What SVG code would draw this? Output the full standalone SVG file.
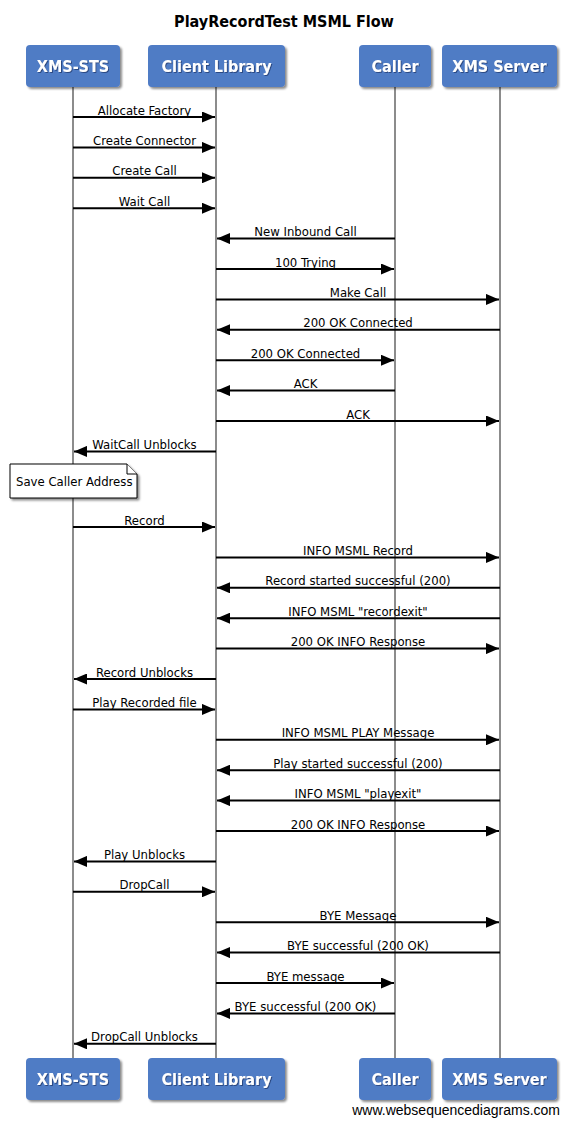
<svg xmlns="http://www.w3.org/2000/svg" width="569" height="1124" viewBox="0 0 569 1124">
  <style>
    .title { font-family: "DejaVu Sans Condensed", "DejaVu Sans", sans-serif; font-weight: bold; font-size: 16px; fill: #000; text-anchor: middle; }
    .actor rect { fill: #4f7bc5; }
    .actor text { font-family: "DejaVu Sans Condensed", "DejaVu Sans", sans-serif; font-weight: bold; font-size: 16px; fill: #fff; text-anchor: middle; }
    .life { stroke: #8c8c8c; stroke-width: 2; fill: none; }
    .msg line { stroke: #000; stroke-width: 2; marker-end: url(#head); }
    .msg text { font-family: "DejaVu Sans Condensed", "DejaVu Sans", sans-serif; font-size: 13px; fill: #000; text-anchor: middle; }
    .note path { fill: #fff; stroke: #000; stroke-width: 1; }
    .note text { font-family: "DejaVu Sans Condensed", "DejaVu Sans", sans-serif; font-size: 13px; fill: #000; }
    .footer { font-family: "Liberation Sans", Arial, sans-serif; font-size: 14px; fill: #000; text-anchor: end; }
  </style>
  <defs>
    <filter id="shadow" x="-10%" y="-10%" width="130%" height="140%">
      <feDropShadow dx="2" dy="2" stdDeviation="1.2" flood-color="#000" flood-opacity="0.45"/>
    </filter>
    <filter id="tshadow" x="-10%" y="-20%" width="120%" height="150%">
      <feDropShadow dx="1" dy="1" stdDeviation="0.5" flood-color="#1d3566" flood-opacity="0.7"/>
    </filter>
    <marker id="head" viewBox="0 0 13 11" refX="13" refY="5.5" markerWidth="13" markerHeight="11" markerUnits="userSpaceOnUse" orient="auto">
      <path d="M0,0 L13,5.5 L0,11 Z" fill="#000"/>
    </marker>
  </defs>

  <rect width="569" height="1124" fill="#fff"/>

  <text class="title" x="284" y="27">PlayRecordTest MSML Flow</text>

  <!-- lifelines -->
  <g id="lifelines">
    <line class="life" x1="73" y1="87" x2="73" y2="1058"/>
    <line class="life" x1="216" y1="87" x2="216" y2="1058"/>
    <line class="life" x1="395" y1="87" x2="395" y2="1058"/>
    <line class="life" x1="500" y1="87" x2="500" y2="1058"/>
  </g>

  <!-- participants, top and bottom -->
  <g id="xms-sts" class="actor">
    <rect x="26" y="45" width="94" height="42" rx="4" filter="url(#shadow)"/>
    <text x="73" y="72" filter="url(#tshadow)">XMS-STS</text>
    <rect x="26" y="1058" width="94" height="42" rx="4" filter="url(#shadow)"/>
    <text x="73" y="1085" filter="url(#tshadow)">XMS-STS</text>
  </g>
  <g id="client-library" class="actor">
    <rect x="148" y="45" width="137" height="42" rx="4" filter="url(#shadow)"/>
    <text x="216.5" y="72" filter="url(#tshadow)">Client Library</text>
    <rect x="148" y="1058" width="137" height="42" rx="4" filter="url(#shadow)"/>
    <text x="216.5" y="1085" filter="url(#tshadow)">Client Library</text>
  </g>
  <g id="caller" class="actor">
    <rect x="359" y="45" width="72" height="42" rx="4" filter="url(#shadow)"/>
    <text x="395" y="72" filter="url(#tshadow)">Caller</text>
    <rect x="359" y="1058" width="72" height="42" rx="4" filter="url(#shadow)"/>
    <text x="395" y="1085" filter="url(#tshadow)">Caller</text>
  </g>
  <g id="xms-server" class="actor">
    <rect x="442" y="45" width="115" height="42" rx="4" filter="url(#shadow)"/>
    <text x="499.5" y="72" filter="url(#tshadow)">XMS Server</text>
    <rect x="442" y="1058" width="115" height="42" rx="4" filter="url(#shadow)"/>
    <text x="499.5" y="1085" filter="url(#tshadow)">XMS Server</text>
  </g>

  <!-- note -->
  <g id="note-save-caller" class="note">
    <path d="M10,464 H127 L137,474 V498 H10 Z" filter="url(#shadow)"/>
    <path d="M127,464 V474 H137" fill="none"/>
    <text x="16" y="486">Save Caller Address</text>
  </g>

  <!-- messages -->
  <g id="connectors" class="msg">
    <line x1="73" y1="117" x2="215" y2="117"/><text x="144.5" y="114.5">Allocate Factory</text>
    <line x1="73" y1="147.4" x2="215" y2="147.4"/><text x="144.5" y="144.9">Create Connector</text>
    <line x1="73" y1="177.8" x2="215" y2="177.8"/><text x="144.5" y="175.3">Create Call</text>
    <line x1="73" y1="208.2" x2="215" y2="208.2"/><text x="144.5" y="205.7">Wait Call</text>
    <line x1="395" y1="238.6" x2="217" y2="238.6"/><text x="305.5" y="236.1">New Inbound Call</text>
    <line x1="216" y1="269" x2="394" y2="269"/><text x="305.5" y="266.5">100 Trying</text>
    <line x1="216" y1="299.4" x2="499" y2="299.4"/><text x="358" y="296.9">Make Call</text>
    <line x1="500" y1="329.8" x2="217" y2="329.8"/><text x="358" y="327.3">200 OK Connected</text>
    <line x1="216" y1="360.2" x2="394" y2="360.2"/><text x="305.5" y="357.7">200 OK Connected</text>
    <line x1="395" y1="390.6" x2="217" y2="390.6"/><text x="305.5" y="388.1">ACK</text>
    <line x1="216" y1="421" x2="499" y2="421"/><text x="358" y="418.5">ACK</text>
    <line x1="216" y1="451.4" x2="74" y2="451.4"/><text x="144.5" y="448.9">WaitCall Unblocks</text>

    <line x1="73" y1="527" x2="215" y2="527"/><text x="144.5" y="524.5">Record</text>
    <line x1="216" y1="557.4" x2="499" y2="557.4"/><text x="358" y="554.9">INFO MSML Record</text>
    <line x1="500" y1="587.8" x2="217" y2="587.8"/><text x="358" y="585.3">Record started successful (200)</text>
    <line x1="500" y1="618.2" x2="217" y2="618.2"/><text x="358" y="615.7">INFO MSML "recordexit"</text>
    <line x1="216" y1="648.6" x2="499" y2="648.6"/><text x="358" y="646.1">200 OK INFO Response</text>
    <line x1="216" y1="679" x2="74" y2="679"/><text x="144.5" y="676.5">Record Unblocks</text>
    <line x1="73" y1="709.4" x2="215" y2="709.4"/><text x="144.5" y="706.9">Play Recorded file</text>
    <line x1="216" y1="739.8" x2="499" y2="739.8"/><text x="358" y="737.3">INFO MSML PLAY Message</text>
    <line x1="500" y1="770.2" x2="217" y2="770.2"/><text x="358" y="767.7">Play started successful (200)</text>
    <line x1="500" y1="800.6" x2="217" y2="800.6"/><text x="358" y="798.1">INFO MSML "playexit"</text>
    <line x1="216" y1="831" x2="499" y2="831"/><text x="358" y="828.5">200 OK INFO Response</text>
    <line x1="216" y1="861.4" x2="74" y2="861.4"/><text x="144.5" y="858.9">Play Unblocks</text>
    <line x1="73" y1="891.8" x2="215" y2="891.8"/><text x="144.5" y="889.3">DropCall</text>
    <line x1="216" y1="922.2" x2="499" y2="922.2"/><text x="358" y="919.7">BYE Message</text>
    <line x1="500" y1="952.6" x2="217" y2="952.6"/><text x="358" y="950.1">BYE successful (200 OK)</text>
    <line x1="216" y1="983" x2="394" y2="983"/><text x="305.5" y="980.5">BYE message</text>
    <line x1="395" y1="1013.4" x2="217" y2="1013.4"/><text x="305.5" y="1010.9">BYE successful (200 OK)</text>
    <line x1="216" y1="1043.8" x2="74" y2="1043.8"/><text x="144.5" y="1041.3">DropCall Unblocks</text>
  </g>

  <text class="footer" x="560" y="1115">www.websequencediagrams.com</text>
</svg>
